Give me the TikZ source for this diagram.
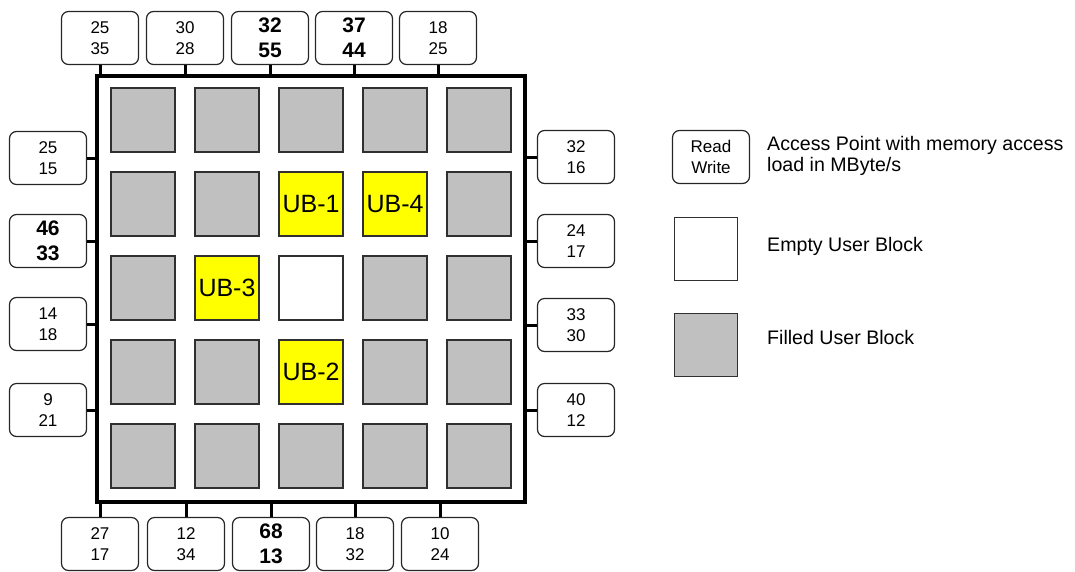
\documentclass[tikz,border=0pt]{standalone}
\usepackage{fontspec}
\setmainfont{Liberation Sans}
\definecolor{cBlock}{HTML}{C0C0C0}
\definecolor{cUser}{HTML}{FFFF00}
\definecolor{cEdge}{HTML}{303030}

\begin{document}
\begin{tikzpicture}[
    x=1pt, y=-1pt, font=\fontsize{17}{21.5}\selectfont,
    ap/.style={draw=black!85, rounded corners=7pt, line width=1.2pt, minimum width=77pt,
               minimum height=53pt, inner sep=0pt, align=center},
    apb/.style={ap, font=\fontsize{21}{25}\selectfont\bfseries},
    cg/.style={draw=cEdge, fill=cBlock, line width=1.3pt, minimum size=64pt, inner sep=0pt},
    ce/.style={cg, fill=white},
    cy/.style={cg, fill=cUser, font=\fontsize{25}{25}\selectfont},
    stub/.style={draw=black, line width=3pt},
    leg/.style={anchor=west, inner sep=0pt, align=left, font=\fontsize{19.6}{21}\selectfont},
]

\useasboundingbox (0,0) rectangle (1075,571);

% ===================== Chip con sus bloques =====================
\node[draw, line width=3.2pt, minimum width=428pt, minimum height=426pt, inner sep=0pt]
      (chip) at (311,289) {};

\foreach \s/\l [count=\i from 0] in {cg/{},cg/{},cg/{},cg/{},cg/{},
                                      cg/{},cg/{},cy/UB-1,cy/UB-4,cg/{},
                                      cg/{},cy/UB-3,ce/{},cg/{},cg/{},
                                      cg/{},cg/{},cy/UB-2,cg/{},cg/{},
                                      cg/{},cg/{},cg/{},cg/{},cg/{}} {
    \pgfmathtruncatemacro\r{div(\i,5)}
    \pgfmathtruncatemacro\c{mod(\i,5)}
    \node[\s] (b\r\c) at ({143+84*\c},{120+84*\r}) {\l};
}

% ===================== Puntos de acceso =====================
\foreach \x/\rd/\wr/\s [count=\i] in {100/25/35/ap, 185/30/28/ap, 270/32/55/apb,
                                      354/37/44/apb, 438/18/25/ap} {
    \node[\s] (top\i) at (\x,38) {\rd\\\wr};
    \draw[stub] (top\i.south) -- (top\i.south |- chip.north);
}

\foreach \y/\rd/\wr/\s [count=\i] in {158/25/15/ap, 241/46/33/apb, 324/14/18/ap, 410/9/21/ap} {
    \node[\s] (left\i) at (48,\y) {\rd\\\wr};
    \draw[stub] (left\i.east) -- (left\i.east -| chip.west);
}

\foreach \y/\rd/\wr/\s [count=\i] in {157/32/16/ap, 241/24/17/ap, 325/33/30/ap, 410/40/12/ap} {
    \node[\s] (right\i) at (576,\y) {\rd\\\wr};
    \draw[stub] (right\i.west) -- (right\i.west -| chip.east);
}

\foreach \x/\rd/\wr/\s [count=\i] in {100/27/17/ap, 186/12/34/ap, 271/68/13/apb,
                                      355/18/32/ap, 440/10/24/ap} {
    \node[\s] (bot\i) at (\x,544) {\rd\\\wr};
    \draw[stub] (bot\i.north) -- (bot\i.north |- chip.south);
}

% ===================== Leyenda =====================
\node[ap] (lgAP) at (711,157) {Read\\Write};
\node[leg] (lgAPtxt) at (767,156) {Access Point with memory access\\load in MByte/s};
\node[ce, minimum size=63pt] (lgEmpty) at (706,249) {};
\node[leg] (lgEmptytxt) at (767,246) {Empty User Block};
\node[cg, minimum size=63pt] (lgFilled) at (706,345) {};
\node[leg] (lgFilledtxt) at (767,337) {Filled User Block};

\end{tikzpicture}
\end{document}
